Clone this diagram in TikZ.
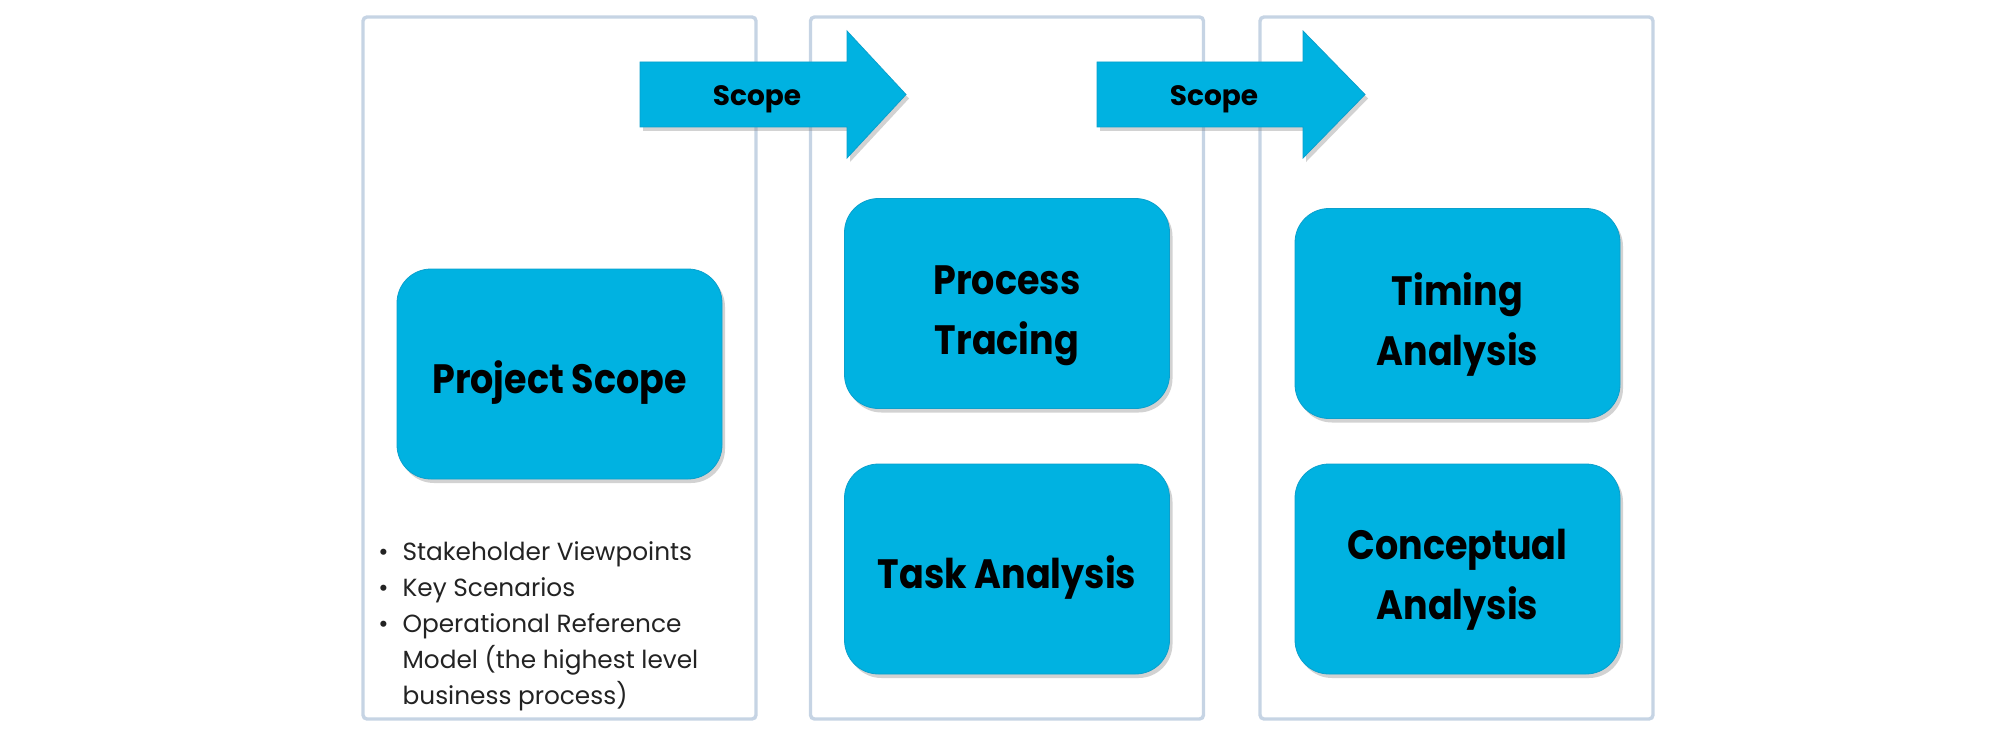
\documentclass[tikz,border=0pt]{standalone}
\usepackage{fontspec}
\setmainfont{Poppins}
\newfontfamily\stagefont{Poppins}[FakeStretch=0.89]
\usetikzlibrary{shadows}
\definecolor{boxblue}{RGB}{0,178,225}
\definecolor{boxedge}{RGB}{10,160,205}
\definecolor{panelline}{RGB}{198,212,228}
\definecolor{txt}{RGB}{35,35,35}
\begin{document}
\begin{tikzpicture}[x=0.5pt,y=-0.5pt,
  panel/.style={draw=panelline,line width=1.7pt,rounded corners=2pt,fill=white,
    minimum width=196.5pt,minimum height=351pt,inner sep=0pt},
  stage/.style={fill=boxblue,draw=boxedge,line width=0.4pt,rounded corners=17pt,
    minimum width=162.5pt,minimum height=105pt,inner sep=0pt,
    drop shadow={shadow xshift=1.5pt,shadow yshift=-2pt,opacity=0.35}},
  stagetext/.style={align=center,inner sep=0pt,
    font=\stagefont\bfseries\fontsize{20.5}{30}\selectfont,text=black},
  flow/.style={fill=boxblue,draw=boxedge,line width=0.4pt,
    drop shadow={shadow xshift=1.5pt,shadow yshift=-2pt,opacity=0.35}},
  flowlbl/.style={font=\bfseries\fontsize{14}{16}\selectfont,text=black,inner sep=0pt},
  bullets/.style={font=\fontsize{12.4}{18}\selectfont,text=txt,inner sep=0pt,anchor=base west}
]
\useasboundingbox (0,0) rectangle (2012,738);
% panels
\node[panel] (p1) at (559.5,368) {};
\node[panel] (p2) at (1007,368) {};
\node[panel] (p3) at (1456.5,368) {};
% stage boxes
\node[stage] (ps) at (559.5,374) {};
\node[stage] (pt) at (1007,303.5) {};
\node[stage] (ta) at (1007,569) {};
\node[stage] (tm) at (1457.5,313.5) {};
\node[stage] (ca) at (1457.5,569) {};
\node[stagetext] (ps-t) at ([yshift=-4.5pt]ps.center) {Project Scope};
\node[stagetext] (pt-t) at ([yshift=-6pt]pt.center) {Process\\Tracing};
\node[stagetext] (ta-t) at ([yshift=-4.5pt]ta.center) {Task Analysis};
\node[stagetext] (tm-t) at ([yshift=-5.5pt]tm.center) {Timing\\Analysis};
\node[stagetext] (ca-t) at ([yshift=-5.5pt]ca.center) {Conceptual\\Analysis};
% scope arrows
\path[flow] (640,62) -- (847,62) -- (847,31) -- (906,94.5) -- (847,158) -- (847,127) -- (640,127) -- cycle;
\node[flowlbl] (s1) at (757,99) {Scope};
\path[flow] (1097,62) -- (1303,62) -- (1303,31) -- (1365,94.5) -- (1303,158) -- (1303,127) -- (1097,127) -- cycle;
\node[flowlbl] (s2) at (1214,99) {Scope};
% bullet list
\node[bullets] (bl) at (378,560) {\begin{tabular}[t]{@{}l@{\hspace{7pt}}l@{}}
\textbullet & Stakeholder Viewpoints\\
\textbullet & Key Scenarios\\
\textbullet & Operational Reference\\
 & Model (the highest level\\
 & business process)
\end{tabular}};
\end{tikzpicture}
\end{document}
